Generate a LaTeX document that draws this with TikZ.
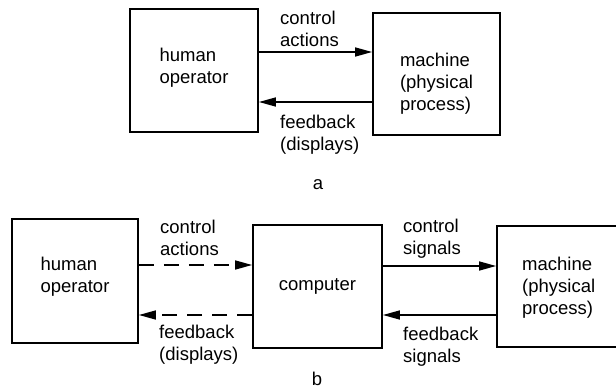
\documentclass[tikz,border=0pt]{standalone}
\usepackage{fontspec}
\setmainfont{Liberation Sans}
\usetikzlibrary{arrows.meta}
\begin{document}
\begin{tikzpicture}[x=1pt,y=-1pt,
  box/.style={draw,line width=1.8pt,inner sep=0pt},
  txt/.style={font=\fontsize{18.5}{22}\selectfont,align=left,inner sep=0pt},
  flow/.style={line width=1.6pt,-{Triangle[length=17pt,width=9pt]}},
  dflow/.style={flow,dash pattern=on 15pt off 10pt}]
\useasboundingbox (0,0) rectangle (616,390);

% (a) operator and machine
\node[box,minimum width=128pt,minimum height=123pt] (hoA) at (194,70.5) {};
\node[box,minimum width=127pt,minimum height=122pt] (mA) at (436.5,74) {};
\node[txt] (hoAt) at (194,68) {human\\operator};
\node[txt] (mAt) at (436.5,83.5) {machine\\(physical\\process)};
\draw[flow] (hoA.east |- 0,52) -- (mA.west |- 0,52);
\draw[flow] (mA.west |- 0,102) -- (hoA.east |- 0,102);
\node[txt,anchor=west] (caA) at (280,29) {control\\actions};
\node[txt,anchor=west] (fbA) at (280,134.5) {feedback\\(displays)};
\node[txt] (la) at (318,185) {a};

% (b) operator, computer and machine
\node[box,minimum width=126pt,minimum height=124pt] (hoB) at (75,281) {};
\node[box,minimum width=129pt,minimum height=123pt] (cB) at (317.5,286.5) {};
\node[box,minimum width=120pt,minimum height=121pt] (mB) at (557,286.5) {};
\node[txt] (hoBt) at (75,277) {human\\operator};
\node[txt] (cBt) at (317.5,286) {computer};
\node[txt,anchor=west] (mBt) at (522,287.5) {machine\\(physical\\process)};
\draw[dflow] (hoB.east |- 0,265) -- (cB.west |- 0,265);
\draw[dflow] (cB.west |- 0,315) -- (hoB.east |- 0,315);
\draw[flow] (cB.east |- 0,266) -- (mB.west |- 0,266);
\draw[flow] (mB.west |- 0,315) -- (cB.east |- 0,315);
\node[txt,anchor=west] (caB) at (160,237.5) {control\\actions};
\node[txt,anchor=west] (fbB) at (159,345) {feedback\\(displays)};
\node[txt,anchor=west] (csB) at (403,239) {control\\signals};
\node[txt,anchor=west] (fsB) at (403,347) {feedback\\signals};
\node[txt] (lb) at (317,379) {b};
\end{tikzpicture}
\end{document}
